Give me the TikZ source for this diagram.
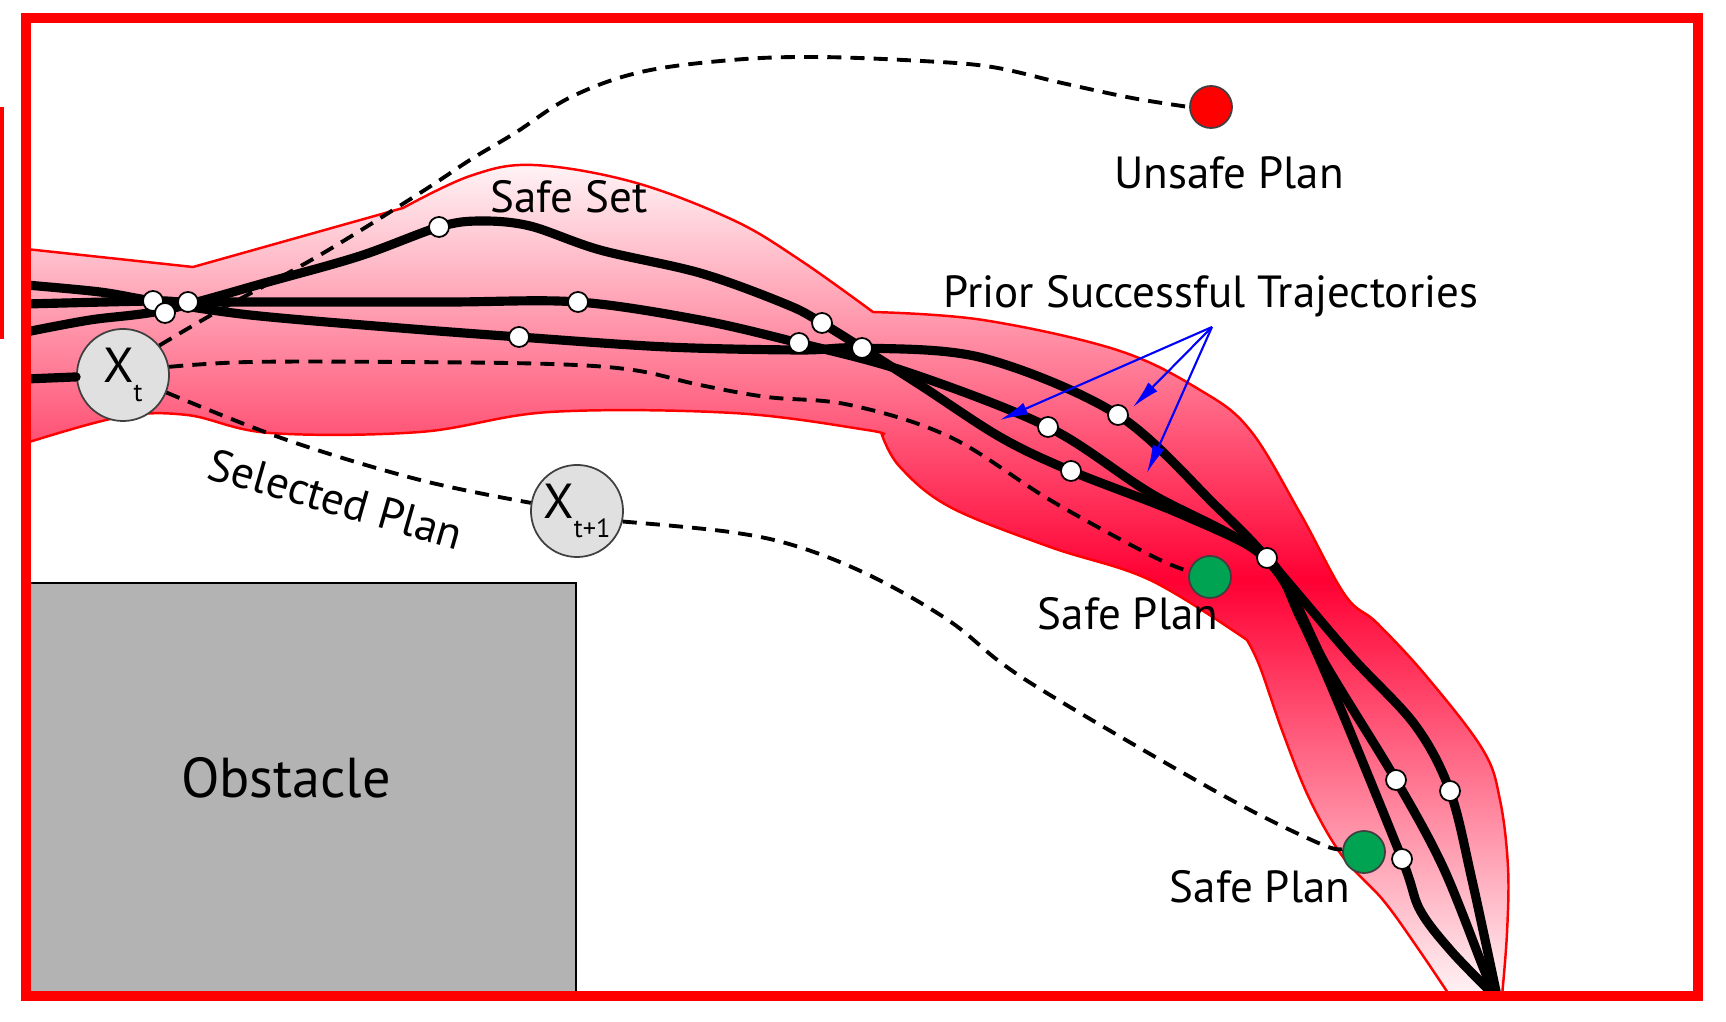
\documentclass[tikz,border=0pt]{standalone}
\usepackage{fontspec}
\setmainfont{PT Sans}
\usetikzlibrary{arrows.meta}

\definecolor{setred}{RGB}{255,0,51}
\definecolor{setpale}{RGB}{255,244,246}
\definecolor{planGreen}{RGB}{0,163,82}
\definecolor{stateGray}{RGB}{224,224,224}
\definecolor{obstGray}{RGB}{179,179,179}

\newcommand{\xsub}[1]{\raisebox{-0.4em}{\fontsize{7.5}{8}\selectfont #1}}

\begin{document}
\begin{tikzpicture}
  [x=0.01cm, y=-0.01cm,
    every node/.style={font=\fontsize{12.8}{15}\selectfont, inner sep=0pt},
    traj/.style={line width=2.6pt, line join=round, line cap=round},
    plan/.style={line width=1.1pt, dash pattern=on 4pt off 2.6pt},
    state/.style={circle, draw=black!75, line width=0.5pt, fill=stateGray, minimum size=0.92cm, font=\fontsize{14}{16}\selectfont},
    wpt/.style={circle, draw=black, line width=0.5pt, fill=white, minimum size=0.2cm},
    goal/.style={circle, draw=black!75, line width=0.5pt, minimum size=0.42cm},
    pointer/.style={blue, line width=0.6pt, -{Latex[length=8pt,width=3.6pt]}},
  ]

  \useasboundingbox (0,0) rectangle (1726,1022);

  \shadedraw[draw=red, line width=0.7pt, top color=setpale, bottom color=setpale, middle color=setred]
    (26,249) -- (193,267) -- (403,208)
    -- plot[smooth, tension=0.6] coordinates {(403,208) (470,176) (533,165) (633,182) (733,220) (800,260) (873,312)}
    -- plot[smooth, tension=0.6] coordinates {(873,312) (983,320) (1117,350) (1200,390) (1250,430) (1300,513) (1345,595) (1377,623) (1427,677) (1483,750) (1500,800) (1508,867) (1507,933) (1502,996)}
    -- (1450,996)
    -- plot[smooth, tension=0.6] coordinates {(1450,996) (1417,947) (1383,900) (1343,857) (1310,800) (1283,733) (1260,667) (1247,640)}
    -- plot[smooth, tension=0.6] coordinates {(1247,640) (1150,580) (1050,547) (950,507) (900,467) (882,435)}
    -- plot[smooth, tension=0.6] coordinates {(882,435) (867,430) (733,413) (550,412) (420,432) (270,433) (187,415) (120,417) (26,443)}
    -- cycle;

  \filldraw[fill=obstGray, draw=black, line width=0.8pt] (26,583) rectangle (576,996);
  \node[font=\fontsize{16}{19}\selectfont, anchor=base] (obstacle) at (286,798) {Obstacle};

  \draw[traj] plot[smooth, tension=0.55] coordinates {(26,332) (90,320) (165,310) (268,282) (360,256) (439,227) (480,221) (530,226) (600,250) (700,273) (783,303) (822,323) (917,383) (1000,437) (1071,471) (1183,515) (1267,558) (1300,617) (1337,700) (1402,859) (1420,910) (1452,952) (1495,996)};
  \draw[traj] plot[smooth, tension=0.55] coordinates {(26,304) (153,301) (188,302) (300,302) (450,302) (578,302) (700,320) (799,343) (907,372) (1048,427) (1150,493) (1267,560) (1327,667) (1396,780) (1443,867) (1483,967) (1495,996)};
  \draw[traj] plot[smooth, tension=0.55] coordinates {(26,285) (100,292) (153,301) (250,315) (400,328) (519,337) (667,347) (800,350) (862,348) (983,358) (1118,415) (1217,507) (1267,558) (1350,655) (1415,725) (1450,791) (1472,880) (1497,996)};

  \node[state] (xt) at (123,375) {X\xsub{t}};
  \node[state] (xt1) at (577,511) {X\xsub{t+1}};
  \node[goal, fill=red] (unsafe) at (1211,107) {};
  \node[goal, fill=planGreen] (safeA) at (1210,577) {};
  \node[goal, fill=planGreen] (safeB) at (1364,852) {};

  \coordinate (edge) at (26,379);
  \draw[traj] (edge) -- (xt);

  \draw[plan] plot[smooth, tension=0.6] coordinates {(xt.39) (220,310) (320,255) (420,193) (470,160) (515,133) (571,97) (641,72) (732,60) (816,57) (922,61) (992,67) (1062,83) (1132,98) (unsafe.west)};
  \draw[plan] plot[smooth, tension=0.6] coordinates {(xt.10) (250,362) (400,362) (550,364) (633,370) (700,385) (767,397) (850,405) (950,437) (1050,500) (1150,555) (safeA.165)};
  \draw[plan] plot[smooth, tension=0.6] coordinates {(xt.-22) (287,440) (420,480) (xt1.170)};
  \draw[plan] plot[smooth, tension=0.6] coordinates {(xt1.-13) (730,532) (799,547) (873,577) (948,620) (1000,662) (1050,695) (1157,758) (1250,810) (1323,845) (safeB.172)};

  \node[wpt] (w1) at (153,301) {};
  \node[wpt] (w2) at (165,313) {};
  \node[wpt] (w3) at (188,302) {};
  \node[wpt] (w4) at (439,227) {};
  \node[wpt] (w5) at (578,302) {};
  \node[wpt] (w6) at (519,337) {};
  \node[wpt] (w7) at (822,323) {};
  \node[wpt] (w8) at (799,343) {};
  \node[wpt] (w9) at (862,348) {};
  \node[wpt] (w10) at (1048,427) {};
  \node[wpt] (w11) at (1118,415) {};
  \node[wpt] (w12) at (1071,471) {};
  \node[wpt] (w13) at (1267,558) {};
  \node[wpt] (w14) at (1396,780) {};
  \node[wpt] (w15) at (1450,791) {};
  \node[wpt] (w16) at (1402,859) {};

  \node[anchor=base] (unsafelbl) at (1229,189) {Unsafe Plan};
  \node[anchor=base] (setlbl) at (569,213) {Safe Set};
  \node[anchor=base] (priorlbl) at (1211,308) {Prior Successful Trajectories};
  \node[anchor=base] (safelblA) at (1128,630) {Safe Plan};
  \node[anchor=base] (safelblB) at (1260,903) {Safe Plan};
  \node[rotate=-16] (selectlbl) at (336,499) {Selected Plan};

  \coordinate (fan) at (1212,327);
  \coordinate (tipA) at (1000,420);
  \coordinate (tipB) at (1133,407);
  \coordinate (tipC) at (1147,473);
  \draw[pointer] (fan) -- (tipA);
  \draw[pointer] (fan) -- (tipB);
  \draw[pointer] (fan) -- (tipC);

  \fill[red] (0,107) rectangle (3.5,339);
  \draw[red, line width=2.8pt] (26,18) rectangle (1698,996);
\end{tikzpicture}
\end{document}
